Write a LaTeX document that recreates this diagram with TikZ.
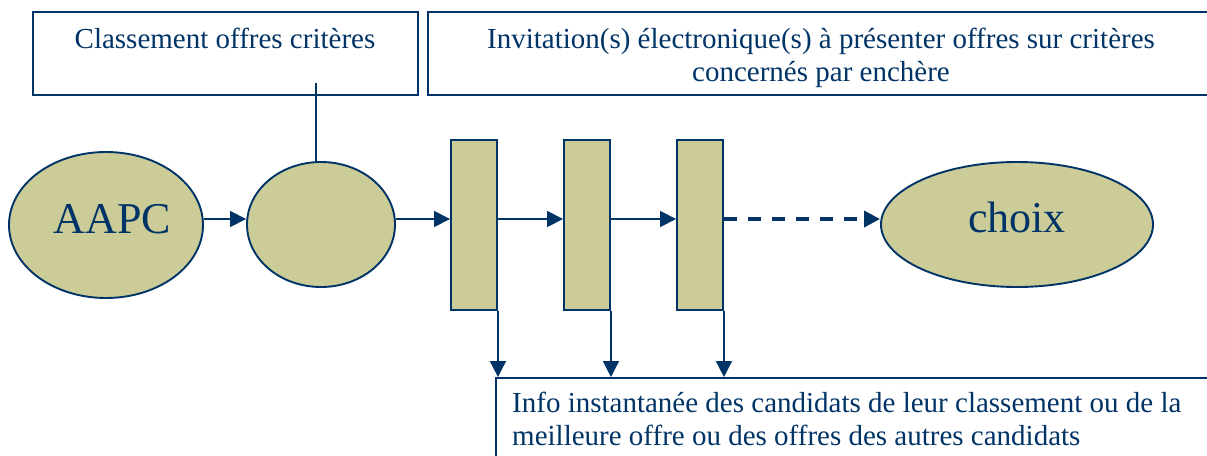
\documentclass[tikz,border=0pt]{standalone}
\usepackage{fontspec}
\setmainfont{Liberation Serif}
\usetikzlibrary{arrows.meta,shapes.geometric,calc}
\definecolor{navy}{RGB}{0,51,102}
\definecolor{sage}{RGB}{204,204,153}
\begin{document}
\begin{tikzpicture}[x=1pt,y=-1pt,
  every node/.style={text=navy},
  boxline/.style={rectangle,draw=navy,line width=1.9pt,inner sep=0pt},
  bubble/.style={ellipse,draw=navy,fill=sage,line width=1.9pt,inner sep=0pt,
    font=\fontsize{44}{50}\selectfont,text height=30pt,text depth=14pt},
  bar/.style={rectangle,draw=navy,fill=sage,line width=1.9pt,
    minimum width=46pt,minimum height=170pt,inner sep=0pt},
  txt/.style={font=\fontsize{29}{33}\selectfont,anchor=base,inner sep=0pt},
  link/.style={draw=navy,line width=1.6pt},
  arr/.style={link,-{Triangle[length=16pt,width=16pt]}},
  dasharr/.style={arr,line width=3.5pt,dash pattern=on 13pt off 11pt}]
\useasboundingbox (0,0) rectangle (1207,455);

% header boxes
\node[boxline,minimum width=385pt,minimum height=83pt] (crit) at (225.5,53.5) {};
\node[boxline,minimum width=786pt,minimum height=83pt] (invit) at (821,53.5) {};
\node[txt] (critT) at (225,48) {Classement offres critères};
\node[txt] (invitA) at (821,48) {Invitation(s) électronique(s) à présenter offres sur critères};
\node[txt] (invitB) at (821,81) {concernés par enchère};

% bottom information box
\node[boxline,minimum width=719pt,minimum height=92pt] (info) at (855.5,424) {};
\node[txt,anchor=base west] (infoA) at (512,412) {Info instantanée des candidats de leur classement ou de la};
\node[txt,anchor=base west] (infoB) at (512,445) {meilleure offre ou des offres des autres candidats};

% process chain
\node[bubble,minimum width=194pt,minimum height=146pt] (aapc) at (106,225) {\hspace*{13pt}AAPC};
\node[bubble,minimum width=148pt,minimum height=125pt] (eval) at (321,224.5) {};
\node[bar] (r1) at (474,225) {};
\node[bar] (r2) at (587,225) {};
\node[bar] (r3) at (700,225) {};
\node[bubble,minimum width=272pt,minimum height=125pt] (choix) at (1017,224.5) {choix};

\coordinate (row) at (0,219);
\coordinate (drop) at (316,83);

\draw[link] (drop) -- (drop |- eval.north);
\draw[arr] (aapc.east |- row) -- (eval.west |- row);
\draw[arr] (eval.east |- row) -- (r1.west |- row);
\draw[arr] (r1.east |- row) -- (r2.west |- row);
\draw[arr] (r2.east |- row) -- (r3.west |- row);
\draw[dasharr] (r3.east |- row) -- (choix.west |- row);

\foreach \b in {r1,r2,r3}
  \draw[arr] (\b.south east) -- (\b.south east |- info.north);
\end{tikzpicture}
\end{document}
